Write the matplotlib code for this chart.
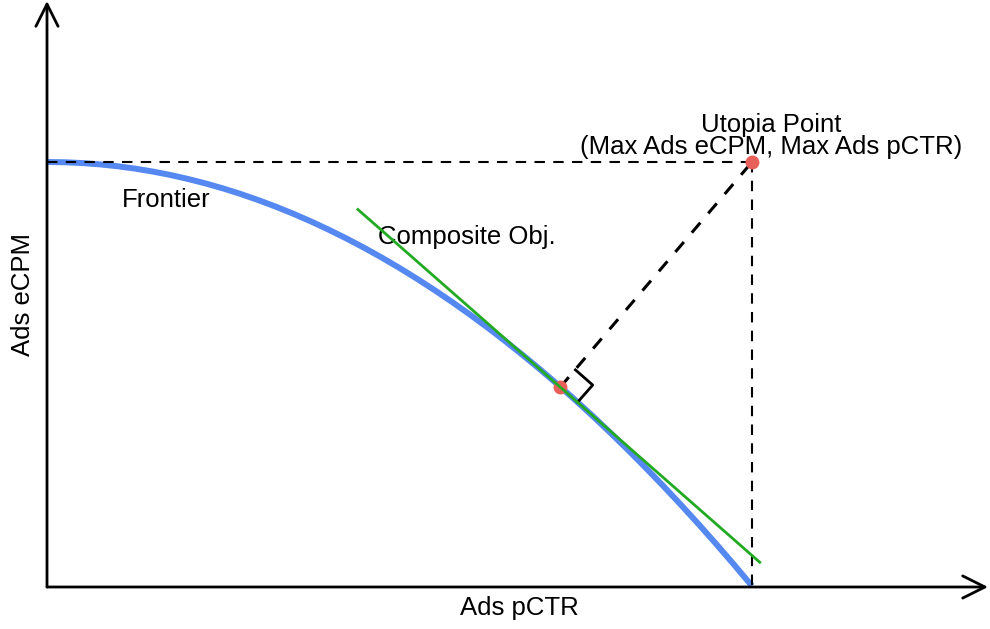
import matplotlib.pyplot as plt
import numpy as np

plt.rcParams['font.family'] = ['Liberation Sans', 'DejaVu Sans']

# frontier curve (Ads pCTR vs Ads eCPM, normalised)
frontier_x = [0.0, 0.025, 0.05, 0.075, 0.1, 0.125, 0.15, 0.175, 0.2, 0.225,
              0.25, 0.275, 0.3, 0.325, 0.35, 0.375, 0.4, 0.425, 0.45, 0.475,
              0.5, 0.525, 0.55, 0.575, 0.6, 0.625, 0.65, 0.675, 0.7, 0.725,
              0.75, 0.775, 0.8, 0.825, 0.85, 0.875, 0.9, 0.925, 0.95, 0.975, 1.0]
frontier_y = [1.0, 0.9994, 0.9975, 0.9944, 0.99, 0.9844, 0.9775, 0.9694, 0.96, 0.9494,
              0.9375, 0.9244, 0.91, 0.8944, 0.8775, 0.8594, 0.84, 0.8194, 0.7975, 0.7744,
              0.75, 0.7244, 0.6975, 0.6694, 0.64, 0.6094, 0.5775, 0.5444, 0.51, 0.4744,
              0.4375, 0.3994, 0.36, 0.3194, 0.2775, 0.2344, 0.19, 0.1444, 0.0975, 0.0494, 0.0]

# composite objective tangent line
tangent_x = [0.441, 1.011]
tangent_y = [0.888, 0.056]

# points
touch_pt = (0.728, 0.469)
utopia_pt = (1.0, 1.0)

# pixel scale of one data unit (for the right-angle marker)
sx, sy = 705.0, 424.0

fig = plt.figure(figsize=(9.9, 6.29), dpi=100)
ax = fig.add_axes([0, 0, 1, 1])
ax.set_xlim(-47 / sx, (990 - 47) / sx)
ax.set_ylim(-(629 - 586) / sy, 586 / sy)
ax.axis('off')

# axes with arrows
arrow = dict(arrowstyle='->', color='black', lw=2, mutation_scale=40, shrinkA=0, shrinkB=0)
ax.annotate('', xy=(0, 585 / sy), xytext=(0, -1 / sy), arrowprops=arrow)
ax.annotate('', xy=(941 / sx, -1 / sy), xytext=(0, -1 / sy), arrowprops=arrow)

# frontier
ax.plot(frontier_x, frontier_y, color='#5588f0', lw=4.3, solid_capstyle='butt',
        solid_joinstyle='round', zorder=2)

# utopia guide lines
ax.plot([0, utopia_pt[0]], [utopia_pt[1], utopia_pt[1]], color='black', lw=1.5,
        linestyle=(0, (5, 4)), zorder=3)
ax.plot([utopia_pt[0], utopia_pt[0]], [utopia_pt[1], -1 / sy], color='black', lw=1.5,
        linestyle=(0, (5, 4)), zorder=3)

# perpendicular to the tangent
ax.plot([touch_pt[0], utopia_pt[0]], [touch_pt[1], utopia_pt[1]], color='black', lw=2.2,
        linestyle=(0, (4.3, 4)), zorder=3)

# right angle marker
slope = (tangent_y[1] - tangent_y[0]) / (tangent_x[1] - tangent_x[0])
t = np.array([1.0, slope * sy / sx])
t /= np.linalg.norm(t)
n = np.array([-t[1], t[0]])
if n[0] < 0:
    n = -n
side = 23
p0 = np.array([touch_pt[0] * sx, touch_pt[1] * sy])
sq = [p0 + n * side, p0 + n * side + t * side, p0 + t * side]
ax.plot([q[0] / sx for q in sq], [q[1] / sy for q in sq], color='black', lw=2, zorder=3)

# points
ax.scatter([touch_pt[0], utopia_pt[0]], [touch_pt[1], utopia_pt[1]], s=100,
           color='#e8605a', zorder=3.5, linewidths=0)

# tangent line
ax.plot(tangent_x, tangent_y, color='#22aa22', lw=2, zorder=4)

# text
fs = 18.5
ax.text(75 / sx, (586 - 200) / sy, 'Frontier', fontsize=fs, ha='left', va='center')
ax.text(331 / sx, (586 - 237) / sy, 'Composite Obj.', fontsize=fs, ha='left', va='center')
ax.text(724 / sx, (586 - 136) / sy, 'Utopia Point\n(Max Ads eCPM, Max Ads pCTR)', fontsize=fs,
        ha='center', va='center', linespacing=0.9)
ax.text(472 / sx, (586 - 608) / sy, 'Ads pCTR', fontsize=fs, ha='center', va='center')
ax.text(-24 / sx, (586 - 295) / sy, 'Ads eCPM', fontsize=fs, ha='center', va='center', rotation=90)

fig.savefig('out.png', dpi=100)
